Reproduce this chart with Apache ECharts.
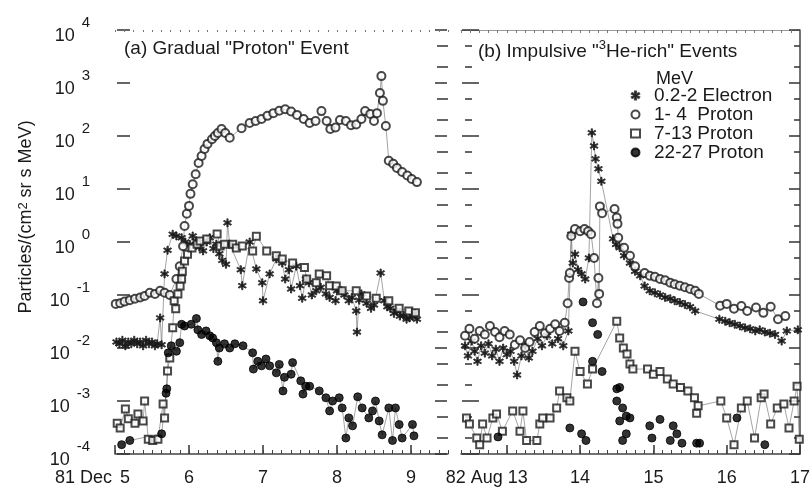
<!DOCTYPE html>
<html>
<head>
<meta charset="utf-8">
<script src="https://cdn.jsdelivr.net/npm/echarts@6/dist/echarts.min.js"></script>
<style>
  html, body { margin: 0; background: #fff; }
  #chart { width: 812px; height: 492px; }
</style>
</head>
<body>
<div id="chart"></div>
<script>
// legend names
const seriesNames = ['0.2-2 Electron', '1- 4  Proton', '7-13 Proton', '22-27 Proton'];

// axis ticks
const decades = [1e-4, 1e-3, 1e-2, 1e-1, 1, 1e1, 1e2, 1e3, 1e4];
const minorVals = [2e-4, 5e-4, 2e-3, 5e-3, 2e-2, 5e-2, 0.2, 0.5, 2, 5, 20, 50, 200, 500, 2e3, 5e3];
const decDays = [5, 6, 7, 8, 9];
const augDays = [13, 14, 15, 16, 17];

// (a) 81 Dec 5-9, [day, flux]
const aElectron = [
  [5.02, 0.013], [5.06, 0.012], [5.1, 0.014], [5.14, 0.011], [5.18, 0.013], [5.22, 0.012], [5.26, 0.014],
  [5.3, 0.012], [5.34, 0.013], [5.38, 0.011], [5.42, 0.014], [5.46, 0.012], [5.5, 0.013], [5.54, 0.011],
  [5.57, 0.012], [5.61, 0.037], [5.63, 0.0115], [5.67, 0.25], [5.71, 0.7], [5.78, 1.4], [5.83, 1.3],
  [5.9, 1.2], [5.95, 1.0], [6.01, 0.9], [6.05, 1.3], [6.1, 1.05], [6.14, 0.8], [6.19, 0.68], [6.24, 1.0],
  [6.28, 1.2], [6.33, 0.75], [6.37, 0.91], [6.41, 0.6], [6.45, 0.45], [6.5, 0.38], [6.52, 2.3], [6.55, 0.91],
  [6.7, 0.3], [6.72, 0.15], [6.82, 1.0], [6.91, 0.31], [6.99, 0.17], [7.0, 0.078], [7.09, 0.25], [7.18, 0.48],
  [7.26, 0.4], [7.3, 0.2], [7.35, 0.3], [7.38, 0.13], [7.45, 0.35], [7.5, 0.15], [7.53, 0.087], [7.58, 0.2],
  [7.62, 0.17], [7.66, 0.1], [7.72, 0.12], [7.78, 0.14], [7.85, 0.105], [7.9, 0.09], [7.98, 0.078],
  [8.0, 0.12], [8.06, 0.12], [8.1, 0.1], [8.16, 0.078], [8.2, 0.09], [8.26, 0.05], [8.27, 0.02], [8.3, 0.08],
  [8.33, 0.105], [8.4, 0.07], [8.46, 0.056], [8.5, 0.065], [8.59, 0.26], [8.64, 0.078], [8.68, 0.06],
  [8.72, 0.056], [8.77, 0.045], [8.81, 0.05], [8.85, 0.04], [8.9, 0.041], [8.94, 0.035], [8.98, 0.037],
  [9.02, 0.04], [9.05, 0.045], [9.08, 0.035]
];
const aProtonLow = [
  [5.01, 0.068], [5.07, 0.07], [5.13, 0.075], [5.2, 0.08], [5.27, 0.085], [5.34, 0.09], [5.4, 0.096],
  [5.47, 0.11], [5.54, 0.105], [5.61, 0.12], [5.67, 0.11], [5.74, 0.1], [5.83, 0.2], [5.875, 0.35],
  [5.92, 0.83], [5.94, 2.0], [5.97, 3.4], [6.0, 4.8], [6.02, 8.1], [6.05, 12.3], [6.09, 19], [6.13, 31],
  [6.17, 42], [6.21, 57], [6.25, 71], [6.31, 87], [6.35, 100], [6.39, 114], [6.44, 136], [6.49, 114],
  [6.55, 93], [6.71, 140], [6.82, 176], [6.9, 192], [6.98, 210], [7.06, 240], [7.14, 270], [7.22, 300],
  [7.3, 320], [7.38, 290], [7.46, 250], [7.55, 210], [7.63, 176], [7.71, 192], [7.79, 295], [7.86, 192],
  [7.91, 136], [7.98, 145], [8.04, 200], [8.12, 192], [8.19, 160], [8.26, 165], [8.33, 210], [8.38, 295],
  [8.45, 260], [8.5, 192], [8.54, 270], [8.58, 650], [8.6, 1350], [8.62, 460], [8.66, 155], [8.7, 34],
  [8.76, 30], [8.81, 25], [8.88, 21], [8.95, 18], [9.01, 15.5], [9.08, 13.5]
];
const aProtonMid = [
  [5.03, 3.8e-4], [5.07, 3.1e-4], [5.14, 7.1e-4], [5.18, 4.6e-4], [5.27, 3.8e-4], [5.31, 5.7e-4],
  [5.38, 4.2e-4], [5.4, 1.0e-3], [5.45, 1.9e-4], [5.51, 1.8e-4], [5.58, 1.9e-4], [5.65, 8.8e-4],
  [5.67, 4.8e-4], [5.71, 3.7e-3], [5.74, 6.5e-3], [5.78, 0.024], [5.8, 0.078], [5.82, 0.055],
  [5.85, 0.105], [5.88, 0.148], [5.9, 0.2], [5.91, 0.28], [5.94, 0.44], [5.98, 0.59], [6.04, 0.77],
  [6.11, 0.91], [6.15, 1.05], [6.24, 1.14], [6.38, 1.41], [6.42, 0.84], [6.48, 0.91], [6.59, 0.91],
  [6.64, 0.77], [6.72, 0.84], [6.86, 0.68], [6.91, 1.29], [7.05, 0.68], [7.18, 0.55], [7.26, 0.48],
  [7.4, 0.4], [7.56, 0.33], [7.59, 0.2], [7.72, 0.17], [7.76, 0.25], [7.86, 0.23], [7.9, 0.15],
  [7.99, 0.148], [8.07, 0.12], [8.26, 0.12], [8.4, 0.096], [8.53, 0.087], [8.7, 0.078], [8.84, 0.056],
  [8.97, 0.05], [9.06, 0.046]
];
const aProtonHigh = [
  [5.09, 1.5e-4], [5.2, 1.8e-4], [5.63, 2.4e-4], [5.69, 1.4e-3], [5.7, 1.7e-3], [5.72, 8.1e-3],
  [5.76, 0.011], [5.83, 8.7e-3], [5.875, 0.0126], [5.9, 0.028], [5.94, 0.026], [6.03, 0.028], [6.1, 0.036],
  [6.12, 0.022], [6.17, 0.018], [6.23, 0.021], [6.28, 0.017], [6.32, 0.0155], [6.37, 0.0126], [6.39, 5.6e-3],
  [6.41, 0.01], [6.48, 0.012], [6.55, 0.01], [6.62, 0.012], [6.73, 0.011], [6.86, 8.1e-3], [6.87, 4.0e-3],
  [6.93, 5.6e-3], [6.98, 4.6e-3], [7.04, 6.2e-3], [7.09, 4.6e-3], [7.18, 3.4e-3], [7.22, 4.9e-3],
  [7.27, 1.55e-3], [7.29, 2.8e-3], [7.38, 3.2e-3], [7.4, 5.3e-3], [7.51, 2.4e-3], [7.54, 1.35e-3],
  [7.58, 1.9e-3], [7.63, 1.9e-3], [7.76, 1.55e-3], [7.85, 1.15e-3], [7.9, 6.5e-4], [7.94, 1.0e-3],
  [8.03, 1.15e-3], [8.07, 7.4e-4], [8.12, 2.0e-4], [8.16, 4.8e-4], [8.21, 3.4e-4], [8.28, 1.2e-3],
  [8.34, 7.4e-4], [8.43, 4.8e-4], [8.48, 6.5e-4], [8.52, 1.0e-3], [8.57, 4.2e-4], [8.61, 2.3e-4],
  [8.7, 7.4e-4], [8.75, 1.8e-4], [8.79, 7.4e-4], [8.84, 3.6e-4], [8.88, 2.0e-4], [9.02, 3.6e-4], [9.04, 2.2e-4]
];

// (b) 82 Aug 13-17, [day, flux]
const bElectron = [
  [12.43, 0.011], [12.47, 0.0071], [12.52, 0.0135], [12.56, 0.0087], [12.6, 0.0056], [12.65, 0.011],
  [12.7, 0.008], [12.75, 0.012], [12.8, 0.0071], [12.85, 0.0095], [12.9, 0.0056], [12.95, 0.01],
  [13.0, 0.0075], [13.05, 0.0087], [13.1, 0.0056], [13.14, 0.0031], [13.2, 0.0071], [13.25, 0.011],
  [13.3, 0.0065], [13.35, 0.0087], [13.42, 0.015], [13.48, 0.011], [13.55, 0.017], [13.62, 0.012],
  [13.7, 0.015], [13.77, 0.011], [13.84, 0.021], [13.88, 1.4], [13.9, 0.4], [13.93, 0.59], [13.97, 0.3],
  [14.02, 0.25], [14.07, 0.2], [14.12, 0.5], [14.16, 115], [14.19, 65], [14.21, 37], [14.25, 24],
  [14.29, 14], [14.45, 1.15], [14.49, 0.9], [14.54, 0.78], [14.6, 0.55], [14.68, 0.4], [14.75, 0.28],
  [14.82, 0.23], [14.88, 0.148], [14.95, 0.12], [15.02, 0.11], [15.09, 0.1], [15.16, 0.09], [15.23, 0.085],
  [15.29, 0.078], [15.36, 0.072], [15.43, 0.066], [15.5, 0.06], [15.57, 0.05], [15.9, 0.035],
  [15.98, 0.032], [16.04, 0.03], [16.11, 0.028], [16.18, 0.026], [16.25, 0.024], [16.32, 0.023],
  [16.39, 0.021], [16.45, 0.022], [16.52, 0.02], [16.59, 0.019], [16.66, 0.018], [16.75, 0.0135],
  [16.82, 0.021], [16.97, 0.022]
];
const bProtonLow = [
  [12.43, 0.017], [12.49, 0.023], [12.56, 0.015], [12.63, 0.021], [12.7, 0.018], [12.77, 0.026],
  [12.84, 0.02], [12.9, 0.016], [12.97, 0.021], [13.04, 0.018], [13.11, 0.0115], [13.18, 0.014],
  [13.25, 0.01], [13.31, 0.013], [13.38, 0.02], [13.45, 0.026], [13.52, 0.019], [13.59, 0.023],
  [13.66, 0.028], [13.72, 0.021], [13.79, 0.03], [13.83, 0.07], [13.85, 0.21], [13.86, 0.26], [13.88, 1.3],
  [13.93, 1.75], [14.0, 1.6], [14.06, 1.75], [14.11, 1.6], [14.15, 1.4], [14.19, 0.5], [14.23, 0.07],
  [14.25, 0.21], [14.26, 0.105], [14.27, 4.7], [14.3, 3.5], [14.47, 4.2], [14.5, 2.9], [14.51, 2.2],
  [14.52, 1.2], [14.6, 0.78], [14.68, 0.55], [14.75, 0.35], [14.88, 0.26], [14.95, 0.23], [15.02, 0.22],
  [15.09, 0.2], [15.16, 0.19], [15.23, 0.17], [15.29, 0.16], [15.36, 0.15], [15.43, 0.14], [15.5, 0.13],
  [15.57, 0.12], [15.62, 0.105], [15.91, 0.063], [16.0, 0.068], [16.1, 0.055], [16.2, 0.062],
  [16.28, 0.05], [16.4, 0.058], [16.5, 0.046], [16.6, 0.06], [16.7, 0.035], [16.8, 0.04]
];
const bProtonMid = [
  [12.45, 4.8e-4], [12.49, 3.7e-4], [12.59, 2.0e-4], [12.63, 1.5e-4], [12.67, 3.7e-4], [12.73, 2.0e-4],
  [12.81, 4.8e-4], [12.86, 5.7e-4], [12.94, 2.7e-4], [13.08, 6.5e-4], [13.18, 2.7e-4], [13.22, 6.5e-4],
  [13.27, 1.8e-4], [13.41, 1.8e-4], [13.45, 3.7e-4], [13.49, 4.8e-4], [13.59, 4.8e-4], [13.68, 7.4e-4],
  [13.72, 1.55e-3], [13.82, 1.15e-3], [13.86, 1.0e-3], [13.93, 8.7e-3], [14.0, 3.6e-3], [14.1, 2.1e-3],
  [14.17, 4.0e-3], [14.5, 0.032], [14.54, 0.0155], [14.59, 0.01], [14.64, 7.7e-3], [14.68, 5.0e-3],
  [14.72, 4.0e-3], [14.92, 4.0e-3], [15.0, 3.2e-3], [15.09, 3.6e-3], [15.19, 2.6e-3], [15.27, 2.1e-3],
  [15.37, 1.8e-3], [15.47, 1.55e-3], [15.56, 1.15e-3], [15.59, 5.9e-4], [15.61, 8.1e-4], [15.92, 1.0e-3],
  [16.0, 4.8e-4], [16.1, 1.5e-4], [16.2, 7.4e-4], [16.28, 1.0e-3], [16.38, 2.0e-4], [16.47, 1.15e-3],
  [16.51, 1.35e-3], [16.6, 3.7e-4], [16.69, 7.4e-4], [16.78, 8.8e-4], [16.85, 3.1e-4], [16.92, 1.0e-3],
  [16.96, 1.9e-3], [16.99, 1.9e-4]
];
const bProtonHigh = [
  [12.88, 2.1e-4], [13.86, 3.1e-4], [14.02, 2.4e-4], [14.04, 0.074], [14.08, 1.8e-4], [14.17, 0.03],
  [14.17, 5.6e-3], [14.24, 0.018], [14.3, 3.6e-3], [14.5, 1.7e-3], [14.5, 1.0e-3], [14.54, 1.8e-3],
  [14.54, 4.2e-4], [14.58, 7.4e-4], [14.58, 1.8e-4], [14.63, 5.2e-4], [14.63, 2.4e-4], [14.68, 4.8e-4],
  [14.95, 3.4e-4], [14.98, 2.0e-4], [15.09, 4.5e-4], [15.23, 1.8e-4], [15.27, 3.4e-4], [15.32, 2.4e-4],
  [15.39, 1.6e-4], [15.59, 1.6e-4], [15.63, 1.6e-4], [16.14, 4.8e-4], [16.52, 1.5e-4]
];

const FONT = '"Liberation Sans", Arial, Helvetica, sans-serif';
const INK = '#1a1a1a';
const asterisk = 'path://M-0.7,-5L0.7,-5L0.7,5L-0.7,5Z' +
  'M-4.68,-1.89L-3.98,-3.11L4.68,1.89L3.98,3.11Z' +
  'M3.98,-3.11L4.68,-1.89L-3.98,3.11L-4.68,1.89Z';

const marks = [
  { symbol: asterisk, size: 8, color: INK },
  { symbol: 'emptyCircle', size: 8, color: INK },
  { symbol: 'emptyRect', size: 7, color: INK },
  { symbol: 'circle', size: 8, color: '#000' }
];

function logY(grid, extra) {
  return Object.assign({
    type: 'log', gridIndex: grid, min: 1e-4, max: 1e4,
    axisLine: { show: false },
    axisLabel: { show: false },
    splitLine: { show: false },
    axisTick: { show: false }
  }, extra);
}
function ticks(vals, len, width) {
  return { show: true, inside: true, length: len, customValues: vals,
           lineStyle: { color: '#333', width: width || 1.5 } };
}
function dayX(grid, min, max, extra) {
  return Object.assign({
    type: 'value', gridIndex: grid, min: min, max: max,
    axisLine: { show: false },
    axisLabel: { show: false },
    axisTick: { show: false },
    splitLine: { show: false }
  }, extra);
}

const yAxes = [
  logY(0, {
    offset: -2,
    axisTick: ticks(decades, 13),
    axisLabel: {
      show: true, customValues: decades, margin: 27, align: 'right', color: INK,
      formatter: v => '{b|10}{e|' + Math.round(Math.log10(v)) + '}',
      rich: {
        b: { fontSize: 18, fontFamily: FONT, color: INK, verticalAlign: 'bottom', lineHeight: 30 },
        e: { fontSize: 15, fontFamily: FONT, color: INK, verticalAlign: 'top', lineHeight: 15, padding: [0, 0, 0, 7] }
      }
    },
    name: 'Particles/(cm{s|2} sr s MeV)',
    nameLocation: 'middle', nameGap: 82, nameRotate: 90,
    nameTextStyle: {
      fontSize: 18, fontFamily: FONT, color: INK, padding: [0, 0, 0, 50],
      rich: { s: { fontSize: 13, fontFamily: FONT, color: INK, verticalAlign: 'top', lineHeight: 13 } }
    }
  }),
  logY(0, { offset: -5, axisTick: ticks(minorVals, 6) }),
  logY(1, { position: 'right', axisLine: { show: true, lineStyle: { color: '#444', width: 1.5 } },
            axisTick: ticks(decades, 11) }),
  logY(1, { position: 'right', axisTick: ticks(minorVals, 6) }),
  logY(1, { position: 'left', offset: -1, axisTick: ticks(decades, 17) }),
  logY(1, { position: 'left', offset: -4, axisTick: ticks(minorVals, 7) }),
  logY(1, { position: 'left', offset: 26, axisTick: ticks(decades, 12) }),
  logY(1, { position: 'left', offset: 18, axisTick: ticks(minorVals, 5) })
];

const labelRich = {
  p: { fontSize: 18, fontFamily: FONT, color: INK },
  n: { fontSize: 18, fontFamily: FONT, color: INK, padding: [0, 45, 0, 8] },
  m: { fontSize: 18, fontFamily: FONT, color: INK, padding: [0, 40, 0, 5] }
};
const xAxes = [
  dayX(0, 5, 9.5, {
    position: 'bottom',
    axisLine: { show: true, lineStyle: { color: '#444', width: 1.5 } },
    axisTick: ticks(decDays, 9),
    axisLabel: { show: true, customValues: decDays, margin: 15, fontSize: 18, fontFamily: FONT, color: INK,
                 formatter: v => v === 5 ? '{p|81 Dec}{n|5}' : String(v), rich: labelRich }
  }),
  dayX(0, 5, 9.5, { position: 'bottom', interval: 0.125,
                    axisTick: { show: true, inside: true, length: 4, lineStyle: { color: '#444', width: 1 } } }),
  dayX(0, 5, 9.5, { position: 'top', interval: 0.125,
                    axisTick: { show: true, inside: true, length: 2, lineStyle: { color: '#777', width: 1 } } }),
  dayX(1, 12.375, 17, {
    position: 'bottom',
    axisLine: { show: true, lineStyle: { color: '#444', width: 1.5 } },
    axisTick: ticks(augDays, 9),
    axisLabel: { show: true, customValues: augDays, margin: 15, fontSize: 18, fontFamily: FONT, color: INK,
                 formatter: v => v === 13 ? '{p|82 Aug}{m|13}' : String(v), rich: labelRich }
  }),
  dayX(1, 12.375, 17, { position: 'bottom', interval: 0.125,
                        axisTick: { show: true, inside: true, length: 4, lineStyle: { color: '#444', width: 1 } } }),
  dayX(1, 12.375, 17, { position: 'top', interval: 0.125,
                        axisLine: { show: true, lineStyle: { color: '#999', width: 1 } },
                        axisTick: { show: true, inside: true, length: 3, lineStyle: { color: '#777', width: 1 } } })
];

function panel(sets, xi, yi, connect) {
  const out = [];
  sets.forEach((d, i) => {
    if (connect[i]) {
      out.push({ type: 'line', xAxisIndex: xi, yAxisIndex: yi, data: d, symbol: 'none',
                 lineStyle: { color: '#666', width: 0.6 }, z: 1, silent: true });
    }
    out.push({ type: 'scatter', name: seriesNames[i], xAxisIndex: xi, yAxisIndex: yi, data: d,
               symbol: marks[i].symbol, symbolSize: marks[i].size,
               itemStyle: { color: marks[i].color, borderColor: marks[i].color, borderWidth: 1 }, z: 3 });
  });
  return out;
}

const chart = echarts.init(document.getElementById('chart'), null, { renderer: 'canvas' });
chart.setOption({
  animation: false,
  backgroundColor: '#fff',
  textStyle: { fontFamily: FONT, color: INK },
  grid: [
    { left: 115, top: 30, width: 333, height: 424, containLabel: false, outerBoundsMode: 'none' },
    { left: 461, top: 30, width: 339, height: 424, containLabel: false, outerBoundsMode: 'none' }
  ],
  title: [
    { text: '(a) Gradual "Proton" Event', left: 124, top: 39, padding: 0,
      textStyle: { fontSize: 19, fontWeight: 'normal', fontFamily: FONT, color: INK } },
    { text: '{t|(b) Impulsive "}{s|3}{t|He-rich" Events}', left: 478, top: 39, padding: 0,
      textStyle: { fontSize: 19, fontWeight: 'normal', fontFamily: FONT, color: INK,
        rich: {
          t: { fontSize: 19, fontFamily: FONT, color: INK, verticalAlign: 'bottom', lineHeight: 22 },
          s: { fontSize: 13, fontFamily: FONT, color: INK, verticalAlign: 'top', lineHeight: 13 }
        } } },
    { text: 'MeV', left: 656, top: 70, padding: 0,
      textStyle: { fontSize: 18, fontWeight: 'normal', fontFamily: FONT, color: INK } }
  ],
  legend: {
    data: seriesNames, orient: 'vertical', left: 630, top: 86, padding: 0,
    itemWidth: 9, itemHeight: 8, itemGap: 0, selectedMode: false,
    textStyle: { fontSize: 19, fontFamily: FONT, color: INK, lineHeight: 19, padding: [0, 0, 0, 9] }
  },
  xAxis: xAxes,
  yAxis: yAxes,
  series: [].concat(
    panel([aElectron, aProtonLow, aProtonMid, aProtonHigh], 0, 0, [true, true, true, true]),
    panel([bElectron, bProtonLow, bProtonMid, bProtonHigh], 3, 2, [true, true, true, false])
  )
});
</script>
</body>
</html>
